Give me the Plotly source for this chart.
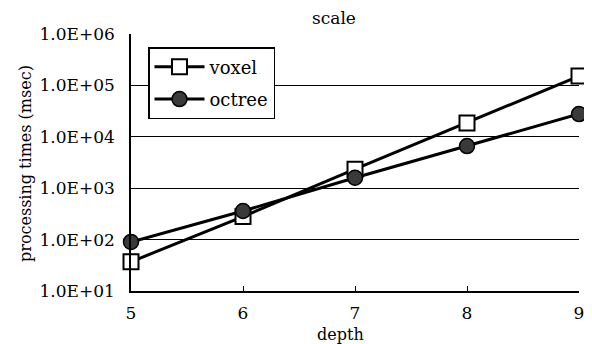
import plotly.graph_objects as go

depth = [5, 6, 7, 8, 9]
voxel = [37, 280, 2350, 18600, 152000]
octree = [90, 360, 1600, 6600, 27700]
y_tickvals = [1e1, 1e2, 1e3, 1e4, 1e5, 1e6]
y_ticktext = ["1.0E+01", "1.0E+02", "1.0E+03", "1.0E+04", "1.0E+05", "1.0E+06"]
x_ticks = [5, 6, 7, 8, 9]

OFF = 8  # page body margin
W, H = 592 - OFF, 344 - OFF
L, R, T, B = 131 - OFF, 13, 34 - OFF, 53
FONT = "DejaVu Serif"

fig = go.Figure()
fig.add_trace(go.Scatter(
    x=depth, y=voxel, name="voxel", mode="lines+markers", legendgroup="a",
    line=dict(color="black", width=3),
    marker=dict(symbol="square", size=15, color="white", line=dict(color="black", width=2)),
    cliponaxis=False,
))
fig.add_trace(go.Scatter(
    x=depth, y=octree, name="octree", mode="lines+markers", legendgroup="b",
    line=dict(color="black", width=3),
    marker=dict(symbol="circle", size=15, color="#3a3a3a", line=dict(color="black", width=1.5)),
    cliponaxis=False,
))

pw = W - L - R
ph = H - T - B


def px(x):
    return (x - OFF - L) / pw


def py(y):
    return 1 - (y - OFF - T) / ph


fig.update_layout(
    width=W, height=H,
    margin=dict(l=L, r=R, t=T, b=B, autoexpand=False),
    paper_bgcolor="white", plot_bgcolor="white",
    font=dict(family=FONT, color="black", size=16),
    showlegend=True,
    legend=dict(
        x=px(148), y=py(47), xanchor="left", yanchor="top",
        bordercolor="black", borderwidth=1.5, bgcolor="white",
        font=dict(family=FONT, size=18), itemwidth=50,
        tracegroupgap=6,
    ),
    xaxis=dict(
        range=[5, 9], tickvals=x_ticks, ticktext=[str(v) for v in x_ticks],
        showgrid=False, zeroline=False, automargin=False,
        showline=True, linecolor="black", linewidth=1.5,
        ticks="inside", ticklen=5, tickcolor="black",
        tickfont=dict(family=FONT, size=17),
        ticklabelstandoff=6,
    ),
    yaxis=dict(
        type="log", range=[1, 6], tickvals=y_tickvals, ticktext=y_ticktext,
        showgrid=True, gridcolor="black", gridwidth=1.2, automargin=False,
        zeroline=False, showline=True, linecolor="black", linewidth=1.5,
        ticks="", tickfont=dict(family=FONT, size=17),
        ticklabelstandoff=11,
    ),
    annotations=[
        dict(text="scale", xref="paper", yref="paper",
             x=px(334), y=py(18), xanchor="center", yanchor="middle",
             showarrow=False, font=dict(family=FONT, size=17)),
        dict(text="depth", xref="paper", yref="paper",
             x=px(340), y=py(334), xanchor="center", yanchor="middle",
             showarrow=False, font=dict(family=FONT, size=16)),
        dict(text="processing times (msec)", xref="paper", yref="paper",
             x=px(25), y=py(164), xanchor="center", yanchor="middle",
             textangle=-90, showarrow=False, font=dict(family=FONT, size=16)),
    ],
)

fig.write_html("out.html")
